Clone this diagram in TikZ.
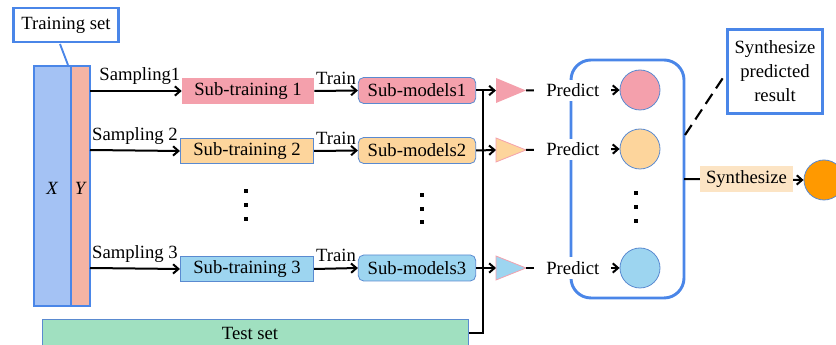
\documentclass[tikz,border=0pt]{standalone}
\usepackage{fontspec}
\setmainfont{Liberation Serif}
\usetikzlibrary{arrows.meta}
\definecolor{bblue}{HTML}{4A86E8}
\definecolor{xfill}{HTML}{A4C2F4}
\definecolor{yfill}{HTML}{F4B4A4}
\definecolor{cpink}{HTML}{F4A0AC}
\definecolor{corange}{HTML}{FDD59C}
\definecolor{clblue}{HTML}{9DD5F0}
\definecolor{cmint}{HTML}{A0E0C0}
\definecolor{csyn}{HTML}{FCE4C4}
\definecolor{cdorange}{HTML}{FF9900}
\definecolor{thinb}{HTML}{5A8AD0}
\begin{document}
\begin{tikzpicture}[x=0.75pt,y=-0.75pt,
  every node/.style={font=\rmfamily\fontsize{14}{16}\selectfont, inner sep=0pt},
  arr/.style={black, line width=1.5pt, -{Straight Barb[length=4pt,width=7pt,line width=1.5pt]}},
  plain/.style={black, line width=1.5pt},
  subtrain/.style={minimum width=100pt, minimum height=19pt},
  submodel/.style={draw=thinb, line width=0.6pt, rounded corners=4pt, minimum width=88pt, minimum height=19.5pt},
  circ/.style={circle, draw=thinb, line width=0.6pt, minimum size=30pt},
  dotsq/.style={fill=black, minimum size=3pt, inner sep=0pt}
]
\useasboundingbox (0,0) rectangle (836,345);

% Training set and data block
\node[draw=bblue, line width=2.2pt, minimum width=79pt, minimum height=25.5pt] (ts) at (66,25) {Training set};
\fill[xfill] (34,66) rectangle (70,306);
\fill[yfill] (72,66) rectangle (90,306);
\draw[bblue, line width=2.2pt] (34,66) rectangle (90,306);
\draw[bblue, line width=2.2pt] (71,66) -- (71,306);
\coordinate (xytop) at (68,65);
\draw[bblue, line width=1.4pt] (60,44) -- (xytop);
\node (X) at (52,188) {\itshape X};
\node (Y) at (80,188) {\itshape Y};
\coordinate (s1) at (90,91);
\coordinate (s2) at (90,150);
\coordinate (s3) at (90,268);

% Test set
\node[fill=cmint, draw=thinb, line width=0.6pt, minimum width=319.5pt, minimum height=26pt, anchor=north west] (test) at (42,319) {};
\node (testlbl) at (250,333) {Test set};

% Sub-training
\node[subtrain, fill=cpink, minimum width=99pt] (st1) at (248,91) {Sub-training 1};
\node[subtrain, fill=corange, draw=thinb, line width=0.6pt] (st2) at (247,151) {Sub-training 2};
\node[subtrain, fill=clblue, draw=thinb, line width=0.6pt] (st3) at (247,269) {Sub-training 3};

\draw[arr] (s1) -- node[above=4pt, xshift=3pt]{Sampling1} (st1.west);
\draw[arr] (s2) -- node[above=4pt]{Sampling 2} (st2.west);
\draw[arr] (s3) -- node[above=4pt]{Sampling 3} (st3.west);

% Sub-models
\node[submodel, fill=cpink] (sm1) at (417,90.5) {Sub-models1};
\node[submodel, fill=corange] (sm2) at (417,150.5) {Sub-models2};
\node[submodel, fill=clblue] (sm3) at (417,268) {Sub-models3};

\draw[arr] (st1.east) -- node[above=4pt]{Train} (sm1.west);
\draw[arr] (st2.east) -- node[above=4pt]{Train} (sm2.west);
\draw[arr] (st3.east) -- node[above=4pt]{Train} (sm3.west);

% dots
\foreach \yy in {191,205,219} \node[dotsq] at (246,\yy) {};
\foreach \yy in {195,209,222} \node[dotsq] at (422,\yy) {};
\foreach \yy in {193,207,221} \node[dotsq] at (636,\yy) {};

% triangles
\coordinate (t1b) at (496,90.5);
\coordinate (t2b) at (496,150);
\coordinate (t3b) at (496,268);
\coordinate (t1) at (526,90.5);
\coordinate (t2) at (526,150);
\coordinate (t3) at (526,268);
\fill[cpink] (496,78) -- (526,90.5) -- (496,103) -- cycle;
\filldraw[fill=corange, draw=cpink, line width=0.6pt] (496,138) -- (526,150) -- (496,162) -- cycle;
\filldraw[fill=clblue, draw=cpink, line width=0.6pt] (496,256) -- (526,268) -- (496,280) -- cycle;

% test set feed line
\coordinate (vtop) at (483,90.5);
\draw[plain] (test.east |- testlbl) -| (vtop);
\draw[arr] (sm1.east) -- (t1b);
\draw[arr] (sm2.east) -- (t2b);
\draw[arr] (sm3.east) -- (t3b);

% rounded container
\draw[bblue, line width=2.2pt, rounded corners=15pt] (571,60) rectangle (684,298);

% circles
\node[circ, fill=cpink] (c1) at (640,90) {};
\node[circ, fill=corange] (c2) at (640,149) {};
\node[circ, fill=clblue] (c3) at (640,268) {};

\draw[arr] (t1) -- node[fill=white, inner xsep=9pt, inner ysep=3pt]{Predict} (c1.west);
\draw[arr] (t2) -- node[fill=white, inner xsep=9pt, inner ysep=3pt]{Predict} (c2.west);
\draw[arr] (t3) -- node[fill=white, inner xsep=9pt, inner ysep=3pt]{Predict} (c3.west);

% synthesize predicted result
\node[draw=bblue, line width=2.2pt, minimum width=71pt, minimum height=63pt, align=center, font=\rmfamily\fontsize{14}{18}\selectfont] (spr) at (775,71.5) {Synthesize\\predicted\\result};
\coordinate (dstart) at (685,135);
\draw[black, line width=1.6pt, dash pattern=on 9pt off 5pt] (dstart) -- (spr.west |- 0,73);

% synthesize output
\coordinate (rr) at (684,179);
\node[circle, draw=thinb, line width=0.6pt, fill=cdorange, minimum size=30pt] (oc) at (824,180) {};
\draw[arr] (rr) -- node[fill=csyn, minimum width=70pt, minimum height=19.5pt, xshift=2pt]{Synthesize} (oc.west);
\end{tikzpicture}
\end{document}
